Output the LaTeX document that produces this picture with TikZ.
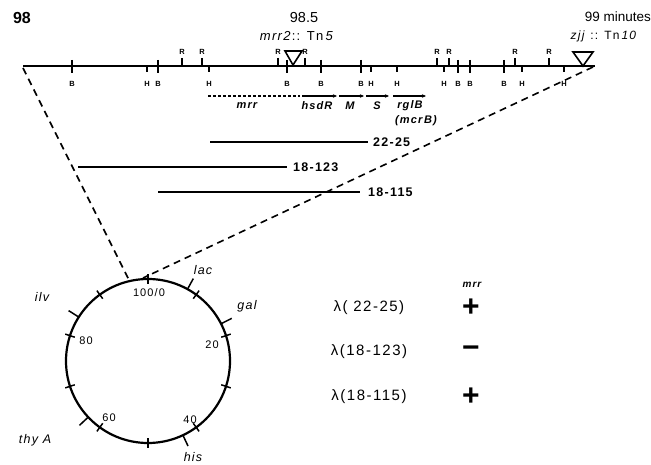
\documentclass[tikz,border=0pt]{standalone}
\usepackage{fontspec}
\setmainfont{Liberation Sans}
\newfontfamily\spaced{Liberation Sans}[LetterSpace=10]
\usetikzlibrary{arrows.meta,calc,positioning}
\begin{document}
\begin{tikzpicture}[x=1pt,y=-1pt,font=\small,
  ticklbl/.style={font=\fontsize{7.5}{8}\selectfont\bfseries,inner sep=0pt},
  gene/.style={font=\spaced\fontsize{11}{12}\selectfont\bfseries\itshape,inner sep=0pt},
  clone/.style={font=\spaced\fontsize{12.5}{14}\selectfont\bfseries,inner sep=0pt,anchor=west},
  maplbl/.style={font=\spaced\fontsize{11}{12}\selectfont,inner sep=0pt},
  genelbl/.style={font=\spaced\fontsize{12.5}{14}\selectfont\itshape,inner sep=0pt},
  sign/.style={font=\fontsize{30}{32}\selectfont\bfseries,inner sep=0pt},
  seg/.style={line width=1.6pt},
  cut/.style={line width=1.6pt,dash pattern=on 7pt off 5pt}]
\useasboundingbox (0,0) rectangle (651,465);
\begin{scope}
\node[font=\fontsize{16}{18}\selectfont\bfseries] (m98) at (22,18) {98};
\node[font=\fontsize{14.5}{16}\selectfont] (m985) at (304,18) {98.5};
\node[font=\spaced\fontsize{13}{14}\selectfont] (tn5) at (297,36) {\textit{mrr2}:: Tn\,\textit{5}};
\node[font=\fontsize{13.5}{15}\selectfont,anchor=east,inner sep=0pt] (m99) at (651,17) {99 minutes};
\node[font=\spaced\fontsize{12}{14}\selectfont] (tn10) at (604,36) {\textit{zjj} :: Tn\,\textit{10}};
\coordinate (left) at (23,66);
\coordinate (right) at (595,66);
\draw[line width=2pt] (left) -- (right);
\foreach \x in {72,158,287,321,361,458,470,504}{\draw[line width=1.5pt] (\x,60) -- (\x,73); \node[ticklbl] (b\x) at (\x,84) {B};}
\foreach \x in {147,209,371,397,444,522,564}{\draw[line width=1.5pt] (\x,66) -- (\x,72); \node[ticklbl] (h\x) at (\x,84) {H};}
\foreach \x in {182,202,278,305,437,449,515,549}{\draw[line width=1.5pt] (\x,58) -- (\x,66); \node[ticklbl] (r\x) at (\x,52) {R};}
\draw[line width=1.6pt] (285,51) -- (302,51) -- (293,65) -- cycle;
\draw[line width=1.6pt] (573,52) -- (593,52) -- (583,66) -- cycle;
\end{scope}
\begin{scope}
\coordinate (mrrs) at (208,96);
\coordinate (mrre) at (300,96);
\draw[seg,dash pattern=on 3pt off 2pt] (mrrs) -- (mrre);
\foreach \a/\b in {302/337,339/364,366/389,393/426}{\draw[seg,-{Stealth[length=4pt,width=3.5pt]}] (\a,96) -- (\b,96);}
\node[gene] (mrr) at (247,106) {mrr};
\node[gene] (hsdR) at (317,106) {hsdR};
\node[gene] (gM) at (350,106) {M};
\node[gene] (gS) at (377,106) {S};
\node[gene] (rglB) at (410,106) {rglB};
\node[gene] (mcrB) at (416,121) {(mcr\,B)};
\end{scope}
\begin{scope}
\coordinate (d1s) at (210,142); \coordinate (d1e) at (368,142);
\coordinate (d2s) at (78,167); \coordinate (d2e) at (287,167);
\coordinate (d3s) at (158,192); \coordinate (d3e) at (360,192);
\draw[seg] (d1s) -- (d1e);
\draw[seg] (d2s) -- (d2e);
\draw[seg] (d3s) -- (d3e);
\node[clone] (c1) at (373,142) {22-25};
\node[clone] (c2) at (293,167) {18-123};
\node[clone] (c3) at (368,192) {18-115};
\end{scope}
\begin{scope}
\coordinate (C) at (148,361);
\coordinate (ctop1) at (130,282);
\coordinate (ctop2) at (143,278);
\draw[cut] (23,68) -- (ctop1);
\draw[cut] (593,67) -- (ctop2);
\draw[line width=2.2pt] (C) circle[radius=82];
\foreach \k in {0,...,9}{\draw[line width=1.5pt] ($(C)+(36*\k-90:77)$) -- ($(C)+(36*\k-90:87)$);}
\foreach \m in {8,17.5,43,63,84}{\draw[line width=1.5pt] ($(C)+(3.6*\m-90:82)$) -- ($(C)+(3.6*\m-90:94)$);}
\node[maplbl] (n100) at (149,293) {100/0};
\node[maplbl] (n20) at (212,345) {20};
\node[maplbl] (n40) at (190,420) {40};
\node[maplbl] (n60) at (109,418) {60};
\node[maplbl] (n80) at (86,341) {80};
\node[genelbl] (lac) at (203,270) {lac};
\node[genelbl] (gal) at (247,306) {gal};
\node[genelbl] (his) at (193,457) {his};
\node[genelbl] (thyA) at (35,440) {thy A};
\node[genelbl] (ilv) at (42,297) {ilv};
\end{scope}
\begin{scope}[font=\spaced\fontsize{15}{17}\selectfont]
\node[font=\spaced\fontsize{10}{12}\selectfont\bfseries\itshape] (hdr) at (472,285) {mrr};
\node (l1) at (369,308) {λ( 22-25)};
\node (l2) at (369,352) {λ(18-123)};
\node (l3) at (369,397) {λ(18-115)};
\node[sign] (s1) at (471,308) {+};
\node[sign] (s2) at (471,352) {−};
\node[sign] (s3) at (471,397) {+};
\end{scope}
\end{tikzpicture}
\end{document}
